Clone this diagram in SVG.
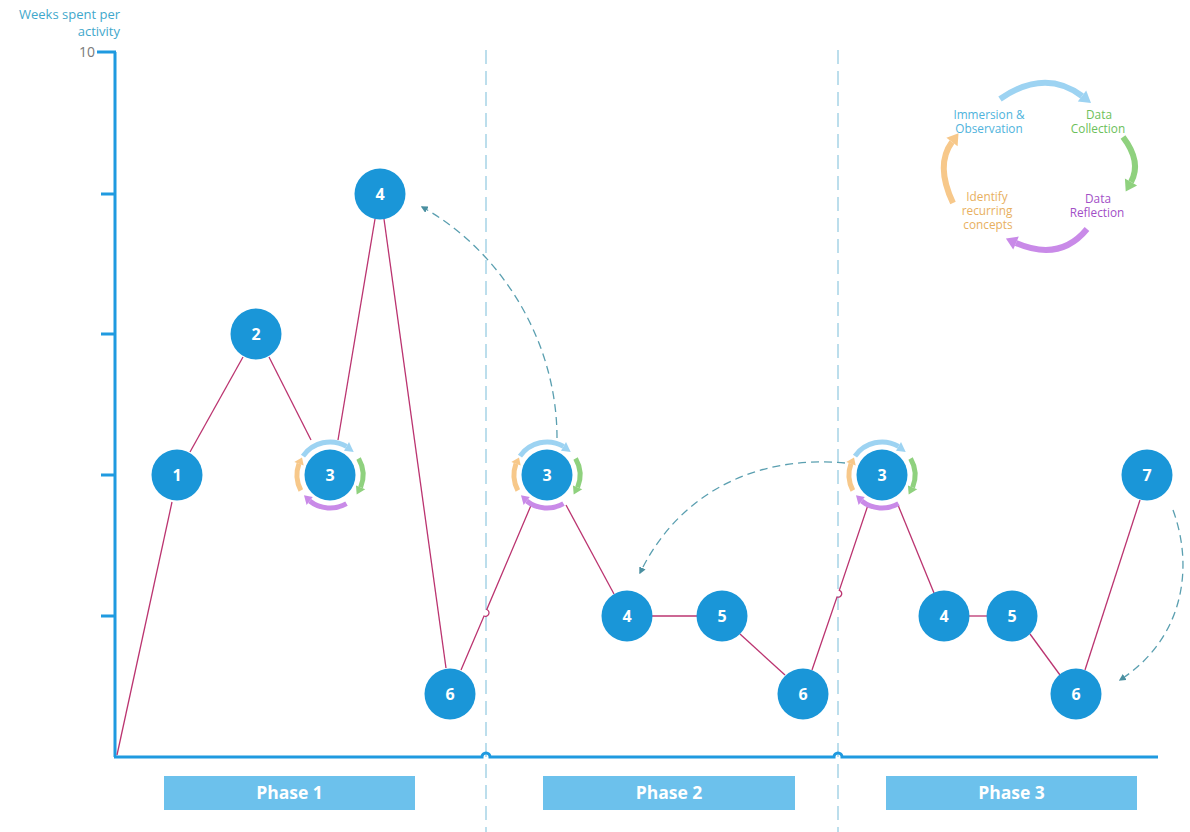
<svg xmlns="http://www.w3.org/2000/svg" xmlns:xlink="http://www.w3.org/1999/xlink" width="1190" height="832" viewBox="0 0 1190 832">
  <style>
    text { font-family: "Open Sans", "Noto Sans", "Liberation Sans", sans-serif; }
    .axis { stroke: #1f9ae0; stroke-width: 3; fill: none; }
    .divider { stroke: #bcdeec; stroke-width: 2; stroke-dasharray: 14 7; fill: none; }
    .link { stroke: #bb3470; stroke-width: 1.3; fill: none; }
    .jump { stroke: #5a9fb0; stroke-width: 1.3; stroke-dasharray: 8 5; fill: none; marker-end: url(#head); }
    .node circle { fill: #1a96d8; }
    .node text { fill: #ffffff; font-size: 16px; font-weight: bold; text-anchor: middle; }
    .phase rect { fill: #6cc1ec; }
    .phase text { fill: #ffffff; font-size: 17.5px; font-weight: bold; text-anchor: middle; }
    .ring { fill: none; stroke-width: 5; stroke-linecap: butt; }
    .legend-arc { fill: none; stroke-width: 6; }
    .legend text { font-size: 11.8px; text-anchor: middle; }
  </style>
  <defs>
    <marker id="head" viewBox="0 0 10 10" refX="8" refY="5" markerWidth="7" markerHeight="7" orient="auto" markerUnits="userSpaceOnUse">
      <path d="M0,0 L10,5 L0,10 z" fill="#4a8fa0"/>
    </marker>
    <!-- four-colour clockwise ring drawn around an iterative activity -->
    <g id="cycle">
      <path class="ring" stroke="#9dd3f2" d="M-27.03,-18.93 A33,33 0 0 1 16.5,-28.58"/>
      <polygon fill="#9dd3f2" points="14,-24.25 19,-32.91 23.74,-22.92"/>
      <path class="ring" stroke="#8fd17e" d="M28.58,-16.5 A33,33 0 0 1 30.6,12.36"/>
      <polygon fill="#8fd17e" points="25.96,10.49 35.23,14.23 26.7,19.4"/>
      <path class="ring" stroke="#c98ae8" d="M16.5,28.58 A33,33 0 0 1 -20.32,26"/>
      <polygon fill="#c98ae8" points="-17.24,22.06 -23.4,29.94 -26,20.32"/>
      <path class="ring" stroke="#f7c88a" d="M-29.14,15.49 A33,33 0 0 1 -31.01,-11.29"/>
      <polygon fill="#f7c88a" points="-26.31,-9.58 -35.71,-13 -27.98,-17.49"/>
    </g>
  </defs>

  <rect width="1190" height="832" fill="#ffffff"/>

  <!-- phase dividers -->
  <g id="dividers">
    <line class="divider" x1="486" y1="50" x2="486" y2="832"/>
    <line class="divider" x1="838" y1="50" x2="838" y2="832"/>
  </g>

  <!-- axes -->
  <g id="axes">
    <path class="axis" d="M115,52 V757 M97,52 H116 M101,194 H115 M101,334 H115 M101,475 H115 M101,616 H115"/>
    <path class="axis" d="M114,757 H482 a4,4 0 0 1 8,0 H834 a4,4 0 0 1 8,0 H1158"/>
    <text x="120" y="19" font-size="13" fill="#3fa8cc" text-anchor="end">Weeks spent per</text>
    <text x="120" y="36" font-size="13" fill="#3fa8cc" text-anchor="end">activity</text>
    <text x="95" y="57" font-size="14" fill="#7a7a7a" text-anchor="end">10</text>
  </g>

  <!-- connectors -->
  <g id="connectors">
    <path class="link" d="M117,755 L172,502"/>
    <path class="link" d="M190,452 L243,357"/>
    <path class="link" d="M269,357 L311,440"/>
    <path class="link" d="M338,440 L375,219"/>
    <path class="link" d="M384,219 L446,668"/>
    <path class="link" d="M461,670 L484,616 a3.5,3.5 0 0 0 2.8,-6.5 L532,503"/>
    <path class="link" d="M566,505 L614,594"/>
    <path class="link" d="M652,616 L697,616"/>
    <path class="link" d="M740,634 L785,675"/>
    <path class="link" d="M812,670 L837,597 a3.5,3.5 0 0 0 2.3,-6.7 L868,505"/>
    <path class="link" d="M898,505 L934,593"/>
    <path class="link" d="M969,616 L987,616"/>
    <path class="link" d="M1030,634 L1060,675"/>
    <path class="link" d="M1085,670 L1140,500"/>
    <path class="jump" d="M557,438 C557,340 500,250 422,207"/>
    <path class="jump" d="M845,463 C760,455 680,490 640,573"/>
    <path class="jump" d="M1173,510 C1195,570 1182,640 1120,680"/>
  </g>

  <!-- activity nodes -->
  <g id="p1-n1" class="node"><circle cx="177" cy="475" r="25.5"/><text x="177" y="481">1</text></g>
  <g id="p1-n2" class="node"><circle cx="256" cy="334" r="25.5"/><text x="256" y="340">2</text></g>
  <g id="p1-n3" class="node"><use xlink:href="#cycle" x="330" y="475"/><circle cx="330" cy="475" r="25.5"/><text x="330" y="481">3</text></g>
  <g id="p1-n4" class="node"><circle cx="380" cy="194" r="25.5"/><text x="380" y="200">4</text></g>
  <g id="p1-n6" class="node"><circle cx="450" cy="694" r="25.5"/><text x="450" y="700">6</text></g>

  <g id="p2-n3" class="node"><use xlink:href="#cycle" x="547" y="475"/><circle cx="547" cy="475" r="25.5"/><text x="547" y="481">3</text></g>
  <g id="p2-n4" class="node"><circle cx="627" cy="616" r="25.5"/><text x="627" y="622">4</text></g>
  <g id="p2-n5" class="node"><circle cx="722" cy="616" r="25.5"/><text x="722" y="622">5</text></g>
  <g id="p2-n6" class="node"><circle cx="803" cy="694" r="25.5"/><text x="803" y="700">6</text></g>

  <g id="p3-n3" class="node"><use xlink:href="#cycle" x="882" y="475"/><circle cx="882" cy="475" r="25.5"/><text x="882" y="481">3</text></g>
  <g id="p3-n4" class="node"><circle cx="944" cy="616" r="25.5"/><text x="944" y="622">4</text></g>
  <g id="p3-n5" class="node"><circle cx="1012" cy="616" r="25.5"/><text x="1012" y="622">5</text></g>
  <g id="p3-n6" class="node"><circle cx="1076" cy="694" r="25.5"/><text x="1076" y="700">6</text></g>
  <g id="p3-n7" class="node"><circle cx="1147" cy="475" r="25.5"/><text x="1147" y="481">7</text></g>

  <!-- phase labels -->
  <g id="phase1" class="phase"><rect x="164" y="776" width="251" height="34"/><text x="289.5" y="799">Phase 1</text></g>
  <g id="phase2" class="phase"><rect x="543" y="776" width="252" height="34"/><text x="669" y="799">Phase 2</text></g>
  <g id="phase3" class="phase"><rect x="886" y="776" width="251" height="34"/><text x="1011.5" y="799">Phase 3</text></g>

  <!-- research cycle legend -->
  <g id="legend" class="legend">
    <path class="legend-arc" stroke="#9dd3f2" d="M1000,99 Q1045,68 1082,96"/>
    <polygon fill="#9dd3f2" points="1077.8,101.6 1086.2,90.4 1091,103"/>
    <path class="legend-arc" stroke="#8fd17e" d="M1123,137 Q1142,162 1131,182"/>
    <polygon fill="#8fd17e" points="1137.1,185.4 1124.9,178.6 1125.7,191.6"/>
    <path class="legend-arc" stroke="#c98ae8" d="M1087,229 Q1060,262 1016,243"/>
    <polygon fill="#c98ae8" points="1018.8,236.6 1013.2,249.4 1005.9,238.6"/>
    <path class="legend-arc" stroke="#f7c88a" d="M953,203 Q935,165 952,142"/>
    <polygon fill="#f7c88a" points="957.6,146.2 946.4,137.8 958.5,133.2"/>
    <text x="989" y="119" fill="#4fb3dc">Immersion &amp;</text>
    <text x="989" y="133" fill="#4fb3dc">Observation</text>
    <text x="1099" y="119" fill="#6cbf5a">Data</text>
    <text x="1098" y="133" fill="#6cbf5a">Collection</text>
    <text x="1098" y="203" fill="#a24fc7">Data</text>
    <text x="1097" y="217" fill="#a24fc7">Reflection</text>
    <text x="987" y="201" fill="#e8b060">Identify</text>
    <text x="987" y="215" fill="#e8b060">recurring</text>
    <text x="988" y="229" fill="#e8b060">concepts</text>
  </g>
</svg>
